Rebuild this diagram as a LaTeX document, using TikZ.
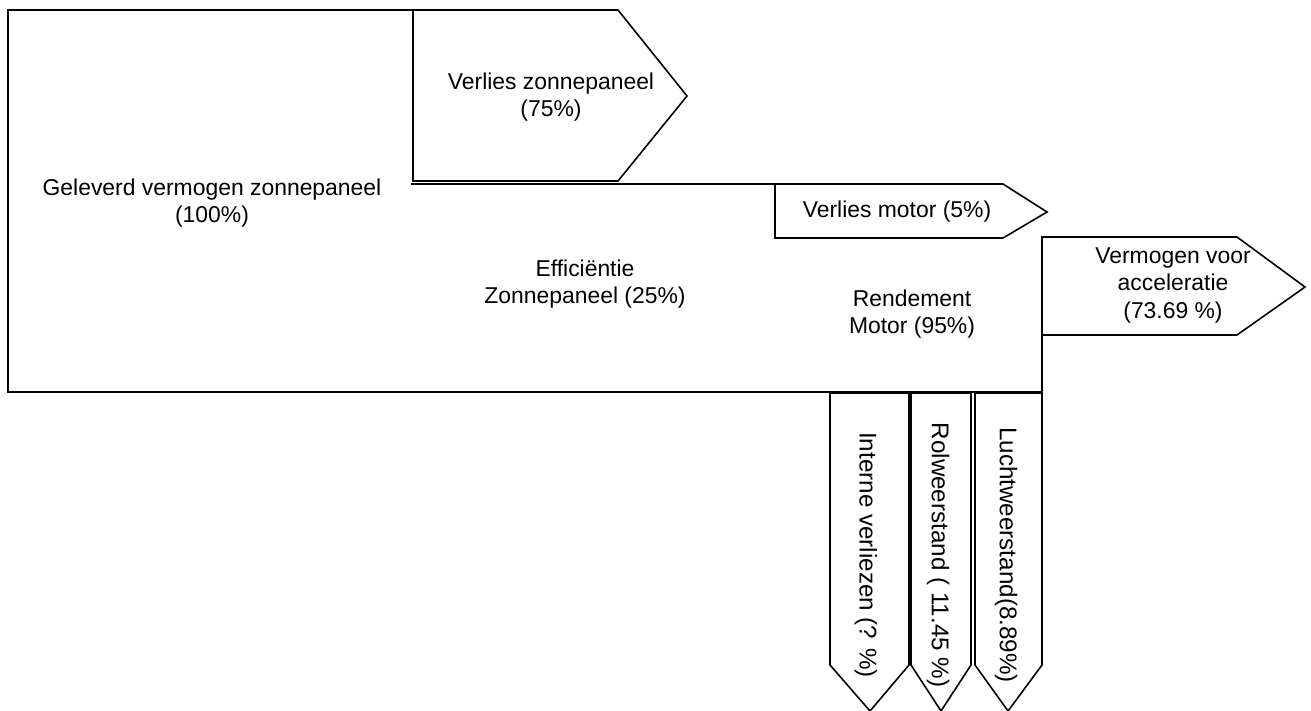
\documentclass[tikz,border=0pt]{standalone}
\usepackage{fontspec}
\setmainfont{Liberation Sans}
\begin{document}
\begin{tikzpicture}[x=1pt,y=-1pt,
  ln/.style={line width=1.6pt,line join=miter},
  lbl/.style={align=center,inner sep=0pt,font=\fontsize{22.9}{27.5}\selectfont},
  vlbl/.style={inner sep=0pt,rotate=-90,font=\fontsize{24.2}{29}\selectfont}]
\useasboundingbox (0,0) rectangle (1311,711);
% main outline
\draw[ln] (413,10) -- (8,10) -- (8,392) -- (1042,392) -- (1042,237);
% loss of solar panel
\draw[ln] (413,10) -- (618,10) -- (687,96) -- (618,181) -- (413,181) -- cycle;
% top of efficiency band
\draw[ln] (411,184) -- (775,184);
% motor loss
\draw[ln] (775,184) -- (1003,184) -- (1047,212) -- (1003,238) -- (775,238) -- cycle;
% acceleration output
\draw[ln] (1042,237) -- (1237,237) -- (1305,287) -- (1237,335) -- (1042,335) -- cycle;
% downward outputs
\draw[ln] (830,393) -- (909,393) -- (909,665) -- (870,711) -- (830,665) -- cycle;
\draw[ln] (911,393) -- (971,393) -- (971,665) -- (941,711) -- (911,665) -- cycle;
\draw[ln] (975,393) -- (1042,393) -- (1042,665) -- (1008,711) -- (975,665) -- cycle;
% labels
\node[lbl] (gel) at (212,203) {Geleverd vermogen zonnepaneel\\(100\%)};
\node[lbl] (vzp) at (551,97) {Verlies zonnepaneel\\(75\%)};
\node[lbl] (vm) at (897,212) {Verlies motor (5\%)};
\node[lbl] (eff) at (585,284) {Efficiëntie\\Zonnepaneel (25\%)};
\node[lbl] (rm) at (912,314) {Rendement\\Motor (95\%)};
\node[lbl] (acc) at (1173,285) {Vermogen voor\\acceleratie\\(73.69 \%)};
\node[vlbl] (int) at (866,555) {Interne verliezen (? \%)};
\node[vlbl] (rol) at (938,555) {Rolweerstand ( 11.45 \%)};
\node[vlbl] (lucht) at (1006,555) {Luchtweerstand(8.89\%)};
\end{tikzpicture}
\end{document}
